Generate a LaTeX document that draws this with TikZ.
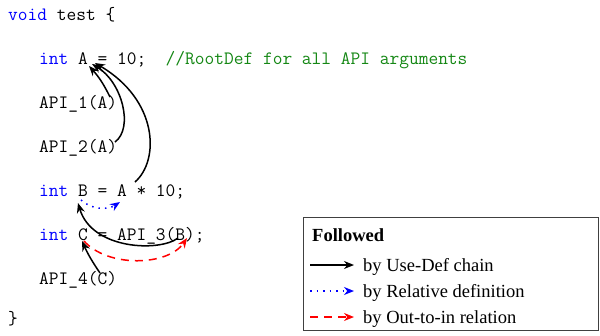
\documentclass[tikz,border=0pt]{standalone}
\usepackage{fontspec}
\setmainfont{Liberation Serif}
\usetikzlibrary{arrows.meta, positioning}

\definecolor{kwblue}{RGB}{0,0,255}
\definecolor{cmtgreen}{RGB}{20,135,20}
\newcommand{\kwd}[1]{\textcolor{kwblue}{#1}}

\begin{document}
\begin{tikzpicture}[
    x=1pt, y=-1pt,
    code/.style={anchor=base west, inner sep=0pt, font=\ttfamily\fontsize{18.9}{22}\selectfont},
    legtext/.style={anchor=base west, inner sep=0pt, font=\fontsize{18.5}{22}\selectfont},
    usedef/.style={-{Stealth[length=10pt, width=8pt]}, line width=1.5pt, black},
    reldef/.style={-{Stealth[length=10pt, width=8pt]}, line width=1.5pt, kwblue, dash pattern=on 1.5pt off 5pt},
    outin/.style={-{Stealth[length=10pt, width=8pt]}, line width=1.5pt, red, dash pattern=on 8pt off 6pt}
]
    \useasboundingbox (0,0) rectangle (600,335);

    % code lines
    \node[code] (l0) at (8, 20) {\kwd{void} test \{};
    \node[code] (lA) at (39, 64) {\kwd{int} A = 10;\ \ \textcolor{cmtgreen}{//RootDef for all API arguments}};
    \node[code] (l1) at (39, 108) {API\_1(A)};
    \node[code] (l2) at (39, 152) {API\_2(A)};
    \node[code] (lB) at (39, 196) {\kwd{int} B = A * 10;};
    \node[code] (lC) at (39, 240) {\kwd{int} C = API\_3(B);};
    \node[code] (l4) at (39, 284) {API\_4(C)};
    \node[code] (lend) at (8, 324) {\}};

    % ends of the arrows
    \coordinate (defA1) at (89, 66);
    \coordinate (defA2) at (92, 64);
    \coordinate (defA3) at (95, 63);
    \coordinate (useA1) at (110, 97);
    \coordinate (useA2) at (115, 142);
    \coordinate (useA3) at (135, 182);
    \coordinate (defB) at (78, 203);
    \coordinate (relB) at (81, 200);
    \coordinate (relA) at (120, 202);
    \coordinate (useB) at (178, 238);
    \coordinate (defC) at (82, 241);
    \coordinate (outC) at (84, 241);
    \coordinate (inB) at (187, 238);
    \coordinate (useC) at (100, 273);

    \draw[usedef] (useA1) to[bend right=8] (defA1);
    \draw[usedef] (useA2) .. controls (134,128) and (122,82) .. (defA2);
    \draw[usedef] (useA3) .. controls (160,160) and (158,100) .. (defA3);
    \draw[reldef] (relB) .. controls (92,210) and (108,210) .. (relA);
    \draw[usedef] (useB) .. controls (160,252) and (92,250) .. (defB);
    \draw[outin] (outC) .. controls (108,268) and (168,266) .. (inB);
    \draw[usedef] (useC) to[bend left=5] (defC);

    % legend
    \draw[line width=0.8pt, black!75] (303,217) rectangle (598,330);
    \node[legtext, font=\bfseries\fontsize{18.5}{22}\selectfont] (title) at (312, 241) {Followed};
    \node[legtext] (t1) at (363, 271) {by Use-Def chain};
    \node[legtext] (t2) at (363, 297) {by Relative definition};
    \node[legtext] (t3) at (363, 323) {by Out-to-in relation};
    \coordinate (k1) at (310, 265);
    \coordinate (k2) at (310, 291);
    \coordinate (k3) at (310, 317);
    \draw[usedef] (k1) -- (k1 -| t1.west) [shorten >=9pt];
    \draw[reldef] (k2) -- (k2 -| t2.west) [shorten >=9pt];
    \draw[outin] (k3) -- (k3 -| t3.west) [shorten >=9pt];
\end{tikzpicture}
\end{document}
